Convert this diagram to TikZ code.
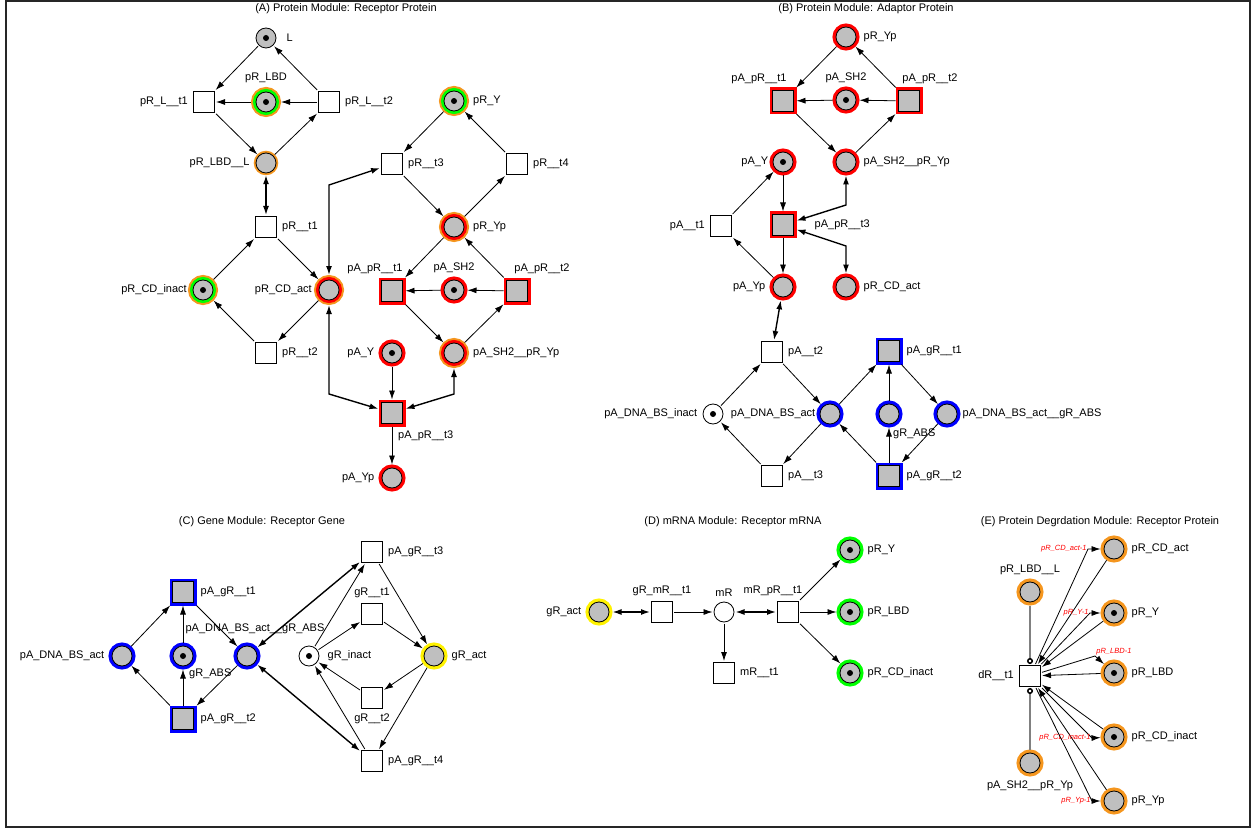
\documentclass[tikz,border=0pt]{standalone}
\usepackage{fontspec}
\setmainfont{Liberation Sans}
\usetikzlibrary{arrows.meta}

\definecolor{ringorange}{RGB}{245,150,30}

\tikzset{
  place/.style={circle, draw, line width=0.8pt, fill=gray!50, minimum size=20pt, inner sep=0pt, outer sep=1.5pt},
  wplace/.style={place, fill=white},
  trans/.style={rectangle, draw, line width=0.8pt, fill=white, minimum size=21pt, inner sep=0pt, outer sep=1.5pt},
  ring/.style={preaction={draw=#1, line width=7pt}, outer sep=3.5pt},
  thinring/.style={preaction={draw=#1, line width=4.5pt}, outer sep=2.2pt},
  tworing/.style 2 args={preaction={draw=#1, line width=10pt}, preaction={draw=#2, line width=6pt}, outer sep=5pt},
  token/.style={path picture={\fill[black] (path picture bounding box.center) circle (3pt);}},
  redtrans/.style={trans, fill=gray!50, preaction={draw=red, line width=6pt}, outer sep=3pt},
  bluetrans/.style={trans, fill=gray!50, preaction={draw=blue, line width=6pt}, outer sep=3pt},
  flow/.style={->, line width=0.8pt},
  darc/.style={<->, line width=1.4pt},
  inhib/.style={-{Circle[open, length=6pt, color=black]}, draw=gray, line width=1.5pt},
  wlbl/.style={font=\fontsize{7.5}{8}\selectfont\itshape, text=red, inner sep=1pt},
  ttl/.style={font=\fontsize{11}{13}\selectfont},
  every label/.style={font=\fontsize{11}{13}\selectfont, inner sep=1pt},
  >={Latex[length=9pt, width=6pt]}
}

\begin{document}
\begin{tikzpicture}[x=1pt, y=-1pt, label distance=3pt]
  \useasboundingbox (0,0) rectangle (1253,829);
  % Frame
  \draw[line width=2.5pt, gray!30!black] (6,1) rectangle (1250,827);

  % (A) Protein Module: Receptor Protein
  \node[ttl] (ttlA) at (346,9) {(A) Protein Module: Receptor Protein};
  \node[place, token, label={[xshift=5pt]right:L}] (aL) at (266,38) {};
  \node[place, token, tworing={ringorange}{green}, label=above:pR\_LBD] (aLBD) at (266,102) {};
  \node[trans, label=left:pR\_L\_\_t1] (aLt1) at (204,102) {};
  \node[trans, label=right:pR\_L\_\_t2] (aLt2) at (329,102) {};
  \node[place, thinring=ringorange, label=left:pR\_LBD\_\_L] (aLBDL) at (266,163) {};
  \node[trans, label=right:pR\_\_t1] (aT1) at (266,227) {};
  \node[place, token, tworing={ringorange}{green}, label={[xshift=3pt]left:pR\_CD\_inact}] (aCDin) at (203,290) {};
  \node[place, tworing={ringorange}{red}, label={[xshift=2pt]left:pR\_CD\_act}] (aCDact) at (329,290) {};
  \node[trans, label=right:pR\_\_t2] (aT2) at (266,353) {};
  \node[place, token, tworing={ringorange}{green}, label=right:pR\_Y] (aY) at (454,101) {};
  \node[trans, label=right:pR\_\_t3] (aT3) at (392,164) {};
  \node[trans, label=right:pR\_\_t4] (aT4) at (517,164) {};
  \node[place, tworing={ringorange}{red}, label=right:pR\_Yp] (aYp) at (454,227) {};
  \node[redtrans, label={[xshift=-17pt]above:pA\_pR\_\_t1}] (aPt1) at (392,291) {};
  \node[place, token, ring=red, label=above:pA\_SH2] (aSH2) at (454,290) {};
  \node[redtrans, label={[xshift=25pt]above:pA\_pR\_\_t2}] (aPt2) at (517,291) {};
  \node[place, tworing={ringorange}{red}, label=right:pA\_SH2\_\_pR\_Yp] (aSH2Yp) at (454,353) {};
  \node[place, token, ring=red, label=left:pA\_Y] (aAY) at (392,353) {};
  \node[redtrans, label={[anchor=north west, xshift=5pt]south:pA\_pR\_\_t3}] (aPt3) at (392,413) {};
  \node[place, ring=red, label=left:pA\_Yp] (aAYp) at (392,478) {};

  \draw[flow] (aL) -- (aLt1);
  \draw[flow] (aLt2) -- (aL);
  \draw[flow] (aLBD) -- (aLt1);
  \draw[flow] (aLt2) -- (aLBD);
  \draw[flow] (aLt1) -- (aLBDL);
  \draw[flow] (aLBDL) -- (aLt2);
  \draw[darc] (aLBDL) -- (aT1);
  \draw[flow] (aCDin) -- (aT1);
  \draw[flow] (aT1) -- (aCDact);
  \draw[flow] (aCDact) -- (aT2);
  \draw[flow] (aT2) -- (aCDin);
  \draw[darc] (aCDact) -- (329,185) -- (aT3);
  \draw[darc] (aCDact) -- (329,394) -- (aPt3);
  \draw[flow] (aY) -- (aT3);
  \draw[flow] (aT4) -- (aY);
  \draw[flow] (aT3) -- (aYp);
  \draw[flow] (aYp) -- (aT4);
  \draw[flow] (aYp) -- (aPt1);
  \draw[flow] (aPt2) -- (aYp);
  \draw[flow] (aSH2) -- (aPt1);
  \draw[flow] (aPt2) -- (aSH2);
  \draw[flow] (aPt1) -- (aSH2Yp);
  \draw[flow] (aSH2Yp) -- (aPt2);
  \draw[flow] (aAY) -- (aPt3);
  \draw[darc] (aSH2Yp) -- (454,394) -- (aPt3);
  \draw[flow] (aPt3) -- (aAYp);

  % (B) Protein Module: Adaptor Protein
  \node[ttl] (ttlB) at (866,9) {(B) Protein Module: Adaptor Protein};
  \node[place, ring=red, label=right:pR\_Yp] (bYp) at (846,37) {};
  \node[redtrans, label={[xshift=-24pt]above:pA\_pR\_\_t1}] (bPt1) at (783,101) {};
  \node[place, token, ring=red, label=above:pA\_SH2] (bSH2) at (846,100) {};
  \node[redtrans, label={[xshift=21pt]above:pA\_pR\_\_t2}] (bPt2) at (909,101) {};
  \node[place, ring=red, label=right:pA\_SH2\_\_pR\_Yp] (bSH2Yp) at (846,162) {};
  \node[place, token, ring=red, label={[xshift=3pt]left:pA\_Y}] (bAY) at (783,162) {};
  \node[trans, label=left:pA\_\_t1] (bAt1) at (721,226) {};
  \node[redtrans, label={[xshift=14pt]right:pA\_pR\_\_t3}] (bPt3) at (783,225) {};
  \node[place, ring=red, label=left:pA\_Yp] (bAYp) at (783,287) {};
  \node[place, ring=red, label=right:pR\_CD\_act] (bCDact) at (846,287) {};
  \node[trans, label=right:pA\_\_t2] (bAt2) at (772,352) {};
  \node[wplace, token, label=left:pA\_DNA\_BS\_inact] (bINact) at (713,414) {};
  \node[place, ring=blue, label={[xshift=3pt]left:pA\_DNA\_BS\_act}] (bACT) at (830,414) {};
  \node[trans, label=right:pA\_\_t3] (bAt3) at (772,476) {};
  \node[bluetrans, label=right:pA\_gR\_\_t1] (bGt1) at (889,351) {};
  \node[place, ring=blue, label={[anchor=north west, xshift=3pt, yshift=3pt]south:gR\_ABS}] (bABS) at (889,414) {};
  \node[place, ring=blue, label={[xshift=-2pt]right:pA\_DNA\_BS\_act\_\_gR\_ABS}] (bACTABS) at (947,414) {};
  \node[bluetrans, label=right:pA\_gR\_\_t2] (bGt2) at (889,476) {};

  \draw[flow] (bYp) -- (bPt1);
  \draw[flow] (bPt2) -- (bYp);
  \draw[flow] (bSH2) -- (bPt1);
  \draw[flow] (bPt2) -- (bSH2);
  \draw[flow] (bPt1) -- (bSH2Yp);
  \draw[flow] (bSH2Yp) -- (bPt2);
  \draw[flow] (bAY) -- (bPt3);
  \draw[flow] (bAt1) -- (bAY);
  \draw[flow] (bAYp) -- (bAt1);
  \draw[flow] (bPt3) -- (bAYp);
  \draw[darc] (bSH2Yp) -- (846,205) -- (bPt3);
  \draw[darc] (bCDact) -- (846,246) -- (bPt3);
  \draw[darc] (bAYp) -- (bAt2);
  \draw[flow] (bINact) -- (bAt2);
  \draw[flow] (bAt2) -- (bACT);
  \draw[flow] (bACT) -- (bAt3);
  \draw[flow] (bAt3) -- (bINact);
  \draw[flow] (bACT) -- (bGt1);
  \draw[flow] (bABS) -- (bGt1);
  \draw[flow] (bGt1) -- (bACTABS);
  \draw[flow] (bACTABS) -- (bGt2);
  \draw[flow] (bGt2) -- (bABS);
  \draw[flow] (bGt2) -- (bACT);

  % (C) Gene Module: Receptor Gene
  \node[ttl] (ttlC) at (262,522) {(C) Gene Module: Receptor Gene};
  \node[bluetrans, label=right:pA\_gR\_\_t1] (cGt1) at (183,592) {};
  \node[place, ring=blue, label=left:pA\_DNA\_BS\_act] (cACT) at (122,656) {};
  \node[place, token, ring=blue, label={[anchor=north west, xshift=5pt, yshift=5pt]south:gR\_ABS}] (cABS) at (183,656) {};
  \node[place, ring=blue, label={[xshift=8pt, yshift=5pt]above:pA\_DNA\_BS\_act\_\_gR\_ABS}] (cACTABS) at (247,656) {};
  \node[bluetrans, label=right:pA\_gR\_\_t2] (cGt2) at (183,719) {};
  \node[wplace, token, label={[xshift=3pt]right:gR\_inact}] (cIN) at (309,656) {};
  \node[trans, label=above:gR\_\_t1] (cRt1) at (372,614) {};
  \node[place, ring=yellow, label=right:gR\_act] (cACTg) at (434,656) {};
  \node[trans, label=below:gR\_\_t2] (cRt2) at (372,698) {};
  \node[trans, label=right:pA\_gR\_\_t3] (cGt3) at (372,552) {};
  \node[trans, label=right:pA\_gR\_\_t4] (cGt4) at (372,761) {};

  \draw[flow] (cACT) -- (cGt1);
  \draw[flow] (cABS) -- (cGt1);
  \draw[flow] (cGt1) -- (cACTABS);
  \draw[flow] (cACTABS) -- (cGt2);
  \draw[flow] (cGt2) -- (cABS);
  \draw[flow] (cGt2) -- (cACT);
  \draw[darc] (cACTABS) -- (cGt3);
  \draw[darc] (cACTABS) -- (cGt4);
  \draw[flow] (cIN) -- (cGt3);
  \draw[flow] (cGt3) -- (cACTg);
  \draw[flow] (cIN) -- (cRt1);
  \draw[flow] (cRt1) -- (cACTg);
  \draw[flow] (cACTg) -- (cRt2);
  \draw[flow] (cRt2) -- (cIN);
  \draw[flow] (cACTg) -- (cGt4);
  \draw[flow] (cGt4) -- (cIN);

  % (D) mRNA Module: Receptor mRNA
  \node[ttl] (ttlD) at (733,522) {(D) mRNA Module: Receptor mRNA};
  \node[place, ring=yellow, label=left:gR\_act] (dACT) at (599,612) {};
  \node[trans, label=above:gR\_mR\_\_t1] (dGMt1) at (662,612) {};
  \node[wplace, label=above:mR] (dMR) at (724,612) {};
  \node[trans, label={[xshift=-15pt]above:mR\_pR\_\_t1}] (dMPt1) at (788,612) {};
  \node[trans, label=right:mR\_\_t1] (dMt1) at (724,673) {};
  \node[place, token, ring=green, label=right:pR\_Y] (dY) at (850,550) {};
  \node[place, token, ring=green, label=right:pR\_LBD] (dLBD) at (850,612) {};
  \node[place, token, ring=green, label=right:pR\_CD\_inact] (dCDin) at (850,673) {};

  \draw[darc] (dACT) -- (dGMt1);
  \draw[flow] (dGMt1) -- (dMR);
  \draw[darc] (dMR) -- (dMPt1);
  \draw[flow] (dMR) -- (dMt1);
  \draw[flow] (dMPt1) -- (dY);
  \draw[flow] (dMPt1) -- (dLBD);
  \draw[flow] (dMPt1) -- (dCDin);

  % (E) Protein Degrdation Module: Receptor Protein
  \node[ttl] (ttlE) at (1100,522) {(E) Protein Degrdation Module: Receptor Protein};
  \node[trans, label=left:dR\_\_t1] (eDt1) at (1030,676) {};
  \node[place, ring=ringorange, label=above:pR\_LBD\_\_L] (eLBDL) at (1030,592) {};
  \node[place, ring=ringorange, label=below:pA\_SH2\_\_pR\_Yp] (eSH2Yp) at (1030,763) {};
  \node[place, ring=ringorange, label=right:pR\_CD\_act] (eCDact) at (1114,549) {};
  \node[place, token, ring=ringorange, label=right:pR\_Y] (eY) at (1114,613) {};
  \node[place, token, ring=ringorange, label=right:pR\_LBD] (eLBD) at (1114,673) {};
  \node[place, token, ring=ringorange, label=right:pR\_CD\_inact] (eCDin) at (1114,737) {};
  \node[place, ring=ringorange, label=right:pR\_Yp] (eYp) at (1114,801) {};

  \draw[inhib] (eLBDL) -- (eDt1);
  \draw[inhib] (eSH2Yp) -- (eDt1);
  \draw[flow] (eCDact) -- (eDt1);
  \draw[flow] (eY) -- (eDt1);
  \draw[flow] (eLBD) -- (eDt1);
  \draw[flow] (eCDin) -- (eDt1);
  \draw[flow] (eYp) -- (eDt1);
  \draw[flow] (eDt1) -- (1088,549) node[wlbl, left] (w1) {pR\_CD\_act-1} -- (eCDact);
  \draw[flow] (eDt1) -- (1090,613) node[wlbl, left] (w2) {pR\_Y-1} -- (eY);
  \draw[flow] (eDt1) -- (1095,656) node[wlbl, above right] (w3) {pR\_LBD-1} -- (eLBD);
  \draw[flow] (eDt1) -- (1092,738) node[wlbl, left] (w4) {pR\_CD\_inact-1} -- (eCDin);
  \draw[flow] (eDt1) -- (1092,801) node[wlbl, left] (w5) {pR\_Yp-1} -- (eYp);
\end{tikzpicture}
\end{document}
